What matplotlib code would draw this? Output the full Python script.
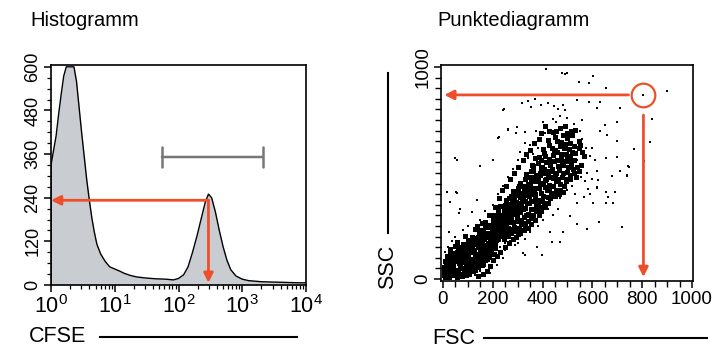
import matplotlib
matplotlib.use('Agg')
import matplotlib.pyplot as plt
import numpy as np
from matplotlib.lines import Line2D
from matplotlib.ticker import MultipleLocator, LogLocator, NullFormatter

plt.rcParams['font.family'] = ['Liberation Sans', 'DejaVu Sans']
plt.rcParams['mathtext.fontset'] = 'custom'
plt.rcParams['mathtext.rm'] = 'Liberation Sans'
plt.rcParams['mathtext.it'] = 'Liberation Sans:italic'

# histogram: CFSE intensity (decade exponent) and event counts
CFSE_DECADE = [0.0, 0.0, 0.04, 0.08, 0.12, 0.16, 0.20, 0.24, 0.28, 0.32, 0.36,
               0.40, 0.44, 0.48, 0.52, 0.56, 0.60, 0.64, 0.68, 0.72, 0.78,
               0.85, 0.92, 1.0, 1.08, 1.15, 1.25, 1.35, 1.5, 1.65, 1.8, 1.92,
               2.0, 2.08, 2.15, 2.22, 2.29, 2.36, 2.42, 2.47, 2.52, 2.58,
               2.64, 2.70, 2.76, 2.82, 2.90, 3.0, 3.1, 3.3, 3.5, 3.7, 3.9, 4.0]
COUNTS = [0, 330, 370, 410, 470, 525, 575, 600, 600, 600, 600,
          560, 490, 420, 355, 290, 235, 185, 145, 112, 85,
          65, 50, 44, 38, 32, 26, 22, 19, 17, 16, 14,
          18, 28, 50, 90, 135, 185, 228, 250, 240, 200,
          150, 105, 68, 42, 25, 16, 12, 9, 8, 7, 6, 6]
HIST_YTICKS = [0, 120, 240, 360, 480, 600]
GATE = (55, 2090)
GATE_COUNT = 352
HIST_ARROW_PEAK = (295, 233)
HIST_ARROW_BASE = 6

# dot plot: (FSC, SSC) events
LOW_BLOB = [
    (5, 18), (15, 30), (25, 12), (35, 35), (48, 22), (60, 38), (75, 15), (90, 32), (105, 25), (120, 36),
    (5, 55), (12, 45), (22, 62), (32, 50), (42, 68), (55, 44), (68, 60), (80, 52), (95, 66), (110, 48),
    (125, 62), (140, 55), (155, 68),
    (8, 85), (18, 72), (28, 95), (40, 80), (52, 98), (65, 75), (78, 90), (92, 78), (105, 96), (118, 84),
    (132, 72), (146, 92), (160, 80), (175, 95),
    (15, 110), (30, 122), (45, 105), (58, 128), (72, 112), (86, 125), (100, 108), (114, 130), (128, 115),
    (142, 102), (156, 126), (170, 110), (185, 122),
    (30, 140), (50, 155), (68, 135), (84, 150), (98, 142), (112, 158), (126, 138), (140, 152), (154, 145),
    (168, 160), (182, 138), (196, 150),
    (55, 175), (80, 165), (100, 185), (118, 170), (134, 182), (150, 168), (165, 188), (180, 172),
    (195, 185), (210, 168),
    (90, 205), (120, 195), (145, 215), (165, 200), (185, 218), (200, 198), (215, 210), (230, 205),
    (130, 235), (160, 225), (185, 245), (205, 230), (222, 248), (240, 228),
    (3, 40), (8, 10), (12, 75), (22, 35), (28, 110), (38, 65), (45, 125), (52, 30), (58, 90), (62, 150),
    (70, 50), (74, 125), (82, 80), (88, 140), (92, 20), (97, 115), (102, 160), (108, 55), (112, 90),
    (118, 200), (122, 130), (128, 45), (132, 100), (138, 180), (143, 65), (147, 140), (152, 90),
    (158, 170), (162, 125), (168, 90), (172, 200), (178, 140), (183, 105), (188, 190), (192, 130),
    (198, 165), (203, 120), (208, 145), (214, 185), (218, 240),
    (200, 90), (215, 110), (190, 60), (175, 40), (160, 25), (140, 15), (230, 130), (250, 150),
    (150, 230), (170, 245), (190, 255), (200, 280), (185, 300), (170, 270), (210, 260), (225, 280),
    (195, 230), (175, 215), (160, 210), (140, 200), (125, 180), (135, 250), (155, 265),
]
CORE_FILL = [
    (10, 25), (20, 50), (30, 70), (40, 55), (50, 85), (60, 105), (70, 95), (85, 110), (95, 90), (105, 135),
    (115, 150), (125, 95), (135, 120), (145, 170), (155, 105), (165, 140), (175, 155), (190, 175),
    (200, 205), (210, 230), (220, 190), (45, 40), (65, 25), (85, 45), (100, 70), (115, 60), (130, 85),
    (150, 115), (160, 95), (170, 130), (180, 205), (195, 225), (150, 195), (135, 165), (110, 175),
    (95, 160), (75, 140), (60, 120), (40, 100), (25, 90), (18, 60), (35, 20), (55, 12), (80, 22),
    (100, 42), (120, 72), (140, 80), (165, 115), (185, 145), (205, 185), (225, 225), (245, 250),
    (260, 290), (275, 320), (290, 350), (305, 395), (320, 440), (340, 480), (360, 510), (250, 300),
    (265, 340), (285, 380), (300, 410), (320, 395), (340, 420), (355, 460), (375, 490), (395, 525),
    (410, 500), (390, 455), (370, 430), (350, 400), (330, 370), (310, 345), (290, 310), (275, 280),
    (260, 240), (245, 215), (230, 265), (245, 320),
]
MID_BAND = [
    (215, 215), (235, 232), (250, 208), (265, 225), (280, 238), (300, 212),
    (200, 262), (220, 248), (240, 275), (255, 255), (270, 268), (285, 245), (300, 272), (315, 258), (330, 250),
    (215, 300), (235, 288), (252, 315), (268, 295), (282, 308), (296, 285), (310, 318), (325, 292),
    (340, 305), (355, 290),
    (230, 345), (250, 330), (268, 355), (284, 338), (300, 325), (315, 350), (330, 336), (345, 358),
    (360, 330), (375, 345),
    (255, 372), (275, 390), (292, 365), (308, 385), (322, 372), (338, 395), (352, 368), (368, 388),
    (385, 375), (400, 392),
    (280, 415), (300, 430), (318, 408), (334, 425), (350, 438), (365, 412), (380, 428), (395, 405),
    (410, 435), (425, 418),
    (310, 455), (330, 470), (348, 448), (364, 462), (380, 475), (395, 452), (410, 468), (425, 445),
    (440, 478), (455, 460), (470, 450),
    (335, 495), (355, 510), (372, 488), (388, 502), (404, 518), (420, 492), (435, 508), (450, 485),
    (465, 515), (480, 498), (500, 505),
    (205, 250), (212, 280), (222, 320), (228, 240), (238, 300), (242, 260), (248, 350), (256, 280),
    (262, 320), (266, 380), (272, 300), (278, 360), (283, 270), (288, 330), (294, 400), (298, 300),
    (303, 360), (307, 440), (312, 280), (318, 380), (323, 330), (327, 420), (333, 300), (337, 360),
    (342, 450), (347, 390), (352, 330), (357, 420), (362, 480), (366, 370), (371, 400), (376, 460),
    (381, 350), (386, 430), (391, 490), (396, 370), (402, 450), (407, 520),
    (200, 300), (210, 340), (225, 380), (235, 420), (255, 440), (270, 470), (285, 500), (300, 530),
    (265, 170), (280, 190), (295, 200), (310, 215), (325, 230), (340, 240), (355, 260), (370, 280),
    (385, 300), (395, 320), (410, 340), (420, 360), (430, 380), (445, 400), (455, 420),
    (245, 190), (260, 205), (275, 215), (290, 225), (305, 240), (320, 265), (340, 275), (360, 300),
    (375, 320), (390, 340), (405, 360), (420, 385), (435, 405), (450, 390), (465, 400), (480, 410),
]
UPPER_BAND = [
    (360, 535), (380, 548), (398, 528), (415, 552), (430, 540), (445, 558), (460, 532), (478, 545),
    (495, 555), (515, 538),
    (385, 575), (405, 592), (425, 568), (442, 585), (458, 598), (475, 572), (492, 590), (510, 578), (530, 595),
    (400, 615), (425, 632), (448, 608), (468, 625), (488, 638), (505, 612), (525, 628), (545, 618),
    (420, 655), (450, 672), (475, 648), (500, 665), (520, 678), (545, 652),
    (440, 695), (470, 712), (500, 688), (530, 705),
    (412, 470), (417, 420), (422, 510), (427, 560), (432, 480), (437, 520), (443, 440), (447, 600),
    (452, 500), (457, 560), (462, 470), (467, 530), (472, 590), (477, 480), (482, 540), (487, 620),
    (492, 470), (497, 580), (502, 530), (507, 560), (512, 490), (517, 600), (522, 520), (527, 560),
    (533, 480), (538, 530), (358, 540), (368, 570), (392, 560), (408, 580), (436, 620), (458, 650),
    (483, 680), (512, 640),
    (320, 560), (335, 590), (350, 610), (365, 640), (385, 660), (395, 690), (410, 720), (425, 700),
    (455, 700), (490, 720), (515, 700), (470, 420), (485, 440), (495, 460), (510, 470), (525, 500),
    (545, 510), (555, 540), (565, 580), (560, 600), (550, 630),
]
SPARSE = [
    (414, 991), (490, 967), (477, 970), (497, 970), (548, 931), (588, 923), (601, 958), (653, 899),
    (898, 888), (805, 868),
    (241, 797), (316, 832), (369, 848), (423, 832), (352, 813), (463, 800), (490, 797), (340, 840),
    (395, 820), (445, 815),
    (262, 703), (296, 718), (329, 695), (225, 670), (48, 571), (57, 562), (201, 561), (149, 533),
    (17, 409), (28, 363), (57, 407), (25, 223), (65, 310), (67, 331), (222, 667), (262, 706),
    (243, 800), (292, 687),
    (841, 755), (831, 645), (767, 613), (807, 557), (742, 533), (738, 487), (700, 577), (655, 570),
    (718, 247), (625, 267), (577, 234), (537, 258), (655, 412), (690, 410), (653, 357), (684, 357),
    (617, 435), (711, 805), (697, 742), (660, 679), (697, 652), (650, 725), (630, 836), (586, 836),
    (537, 844), (617, 805),
    (510, 299), (604, 357), (664, 388), (566, 388), (537, 357), (581, 425), (738, 491), (711, 509),
    (745, 530), (624, 467), (678, 488),
    (52, 412), (115, 318), (138, 373), (329, 113), (396, 113), (376, 152), (437, 176), (470, 176),
    (430, 223), (483, 223), (289, 160), (249, 137), (189, 27), (216, 66), (323, 121),
    (380, 620), (410, 690), (440, 755), (455, 740), (470, 770), (400, 740), (360, 590), (350, 630),
    (340, 570), (375, 700), (480, 820), (500, 760), (525, 730), (550, 700), (560, 750), (600, 620),
    (590, 580), (610, 560), (620, 510), (600, 470), (630, 700), (580, 500), (570, 460), (590, 400),
    (620, 430), (560, 660), (575, 620), (540, 560), (555, 480), (520, 440), (530, 400), (500, 420),
    (470, 380), (460, 330), (420, 330), (440, 300), (400, 280), (380, 250), (350, 220), (330, 190),
    (300, 170), (270, 180), (250, 170), (230, 150), (190, 110), (210, 120), (170, 60), (150, 40),
    (130, 20), (110, 15), (240, 100), (80, 230), (50, 200), (35, 180), (20, 150), (10, 130),
    (100, 250), (150, 280), (170, 320), (200, 350), (220, 400), (240, 440), (260, 480), (280, 520),
    (300, 560), (310, 600), (330, 640),
]
MARKED_EVENT = (805, 868)
DOT_ARROW_END = 5

RED = '#ee4f2a'
FILL = '#c9ccd0'
GATE_GRAY = '#777777'

W, H = 715, 349


def fx(px):
    return px / W


def fy(py):
    return 1 - py / H


def red_arrow(ax, start, tip):
    ax.annotate('', xy=tip, xytext=start,
                arrowprops=dict(arrowstyle='-|>', color=RED, lw=2, shrinkA=0, shrinkB=0,
                                mutation_scale=14))


fig = plt.figure(figsize=(W / 100, H / 100), dpi=100)

# --- histogram ---
ax1 = fig.add_axes([fx(51), fy(285), fx(306) - fx(51), fy(65) - fy(285)])
x = 10 ** np.array(CFSE_DECADE)
ax1.fill_between(x, COUNTS, color=FILL, lw=0)
ax1.plot(x, COUNTS, color='black', lw=1.0)
ax1.set_xscale('log')
ax1.set_xlim(1, 1e4)
ax1.set_ylim(0, 605)
ax1.xaxis.set_major_locator(LogLocator(base=10, numticks=10))
ax1.xaxis.set_minor_locator(LogLocator(base=10, subs=np.arange(2, 10), numticks=10))
ax1.xaxis.set_minor_formatter(NullFormatter())
ax1.set_yticks(HIST_YTICKS)
ax1.yaxis.set_minor_locator(MultipleLocator(30))
ax1.tick_params(axis='both', which='major', direction='out', length=5, width=1.1,
                labelsize=13, pad=2)
ax1.tick_params(axis='x', labelsize=15.5)
ax1.tick_params(axis='both', which='minor', direction='out', length=3, width=0.9)
ax1.tick_params(axis='y', labelrotation=90)
for lab in ax1.get_yticklabels():
    lab.set_va('center')
for sp in ax1.spines.values():
    sp.set_linewidth(1.2)

ax1.annotate('', xy=(GATE[1], GATE_COUNT), xytext=(GATE[0], GATE_COUNT),
             arrowprops=dict(arrowstyle='|-|,widthA=0.5,widthB=0.5', color=GATE_GRAY,
                             lw=1.8, shrinkA=0, shrinkB=0, mutation_scale=14))
red_arrow(ax1, HIST_ARROW_PEAK, (1, HIST_ARROW_PEAK[1]))
red_arrow(ax1, HIST_ARROW_PEAK, (HIST_ARROW_PEAK[0], HIST_ARROW_BASE))

# --- dot plot ---
ax2 = fig.add_axes([fx(441), fy(281), fx(693) - fx(441), fy(65) - fy(281)])
core = np.array(LOW_BLOB + CORE_FILL + MID_BAND + UPPER_BAND)
sparse = np.array(SPARSE)
ax2.plot(core[:, 0], core[:, 1], 's', color='black', ms=3.6, mew=0)
ax2.plot(sparse[:, 0], sparse[:, 1], 's', color='black', ms=1.9, mew=0)
ax2.set_xlim(-8, 1004)
ax2.set_ylim(-9, 1009)
ax2.set_xticks([0, 200, 400, 600, 800, 1000])
ax2.set_yticks([0, 1000])
ax2.xaxis.set_minor_locator(MultipleLocator(50))
ax2.yaxis.set_minor_locator(MultipleLocator(50))
ax2.tick_params(axis='both', which='major', direction='out', length=5, width=1.1,
                labelsize=13.5, pad=2)
ax2.tick_params(axis='both', which='minor', direction='out', length=4, width=1.0)
ax2.tick_params(axis='y', labelrotation=90)
for lab in ax2.get_yticklabels():
    lab.set_va('center')
for sp in ax2.spines.values():
    sp.set_linewidth(1.2)

mx, my = MARKED_EVENT
ax2.plot([mx], [my], 'o', ms=17, mfc='none', mec=RED, mew=1.6)
red_arrow(ax2, (mx - 60, my), (DOT_ARROW_END, my))
red_arrow(ax2, (mx, my - 95), (mx, DOT_ARROW_END + 5))

# --- titles and axis labels ---
fig.text(fx(30), fy(20), 'Histogramm', fontsize=14.5, ha='left', va='center')
fig.text(fx(437), fy(20), 'Punktediagramm', fontsize=14.5, ha='left', va='center')
fig.text(fx(29), fy(337), 'CFSE', fontsize=15.5, ha='left', va='center')
fig.add_artist(Line2D([fx(100), fx(297)], [fy(337), fy(337)], color='black', lw=1.5))
fig.text(fx(432), fy(338), 'FSC', fontsize=15.5, ha='left', va='center')
fig.add_artist(Line2D([fx(484), fx(707)], [fy(338), fy(338)], color='black', lw=1.5))
fig.text(fx(388), fy(267), 'SSC', fontsize=15.5, ha='center', va='center', rotation=90)
fig.add_artist(Line2D([fx(388), fx(388)], [fy(233), fy(73)], color='black', lw=1.5))

fig.savefig('out.png', dpi=100)
